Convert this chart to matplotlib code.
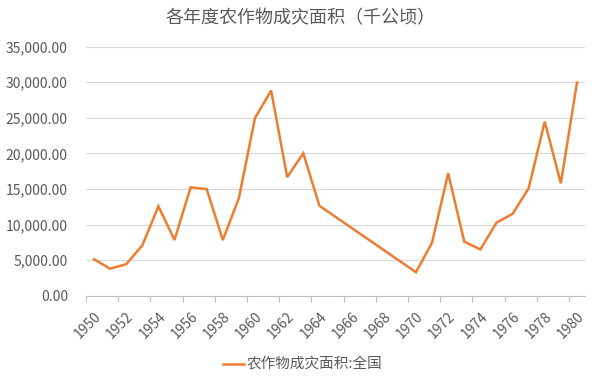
import matplotlib
matplotlib.use("Agg")
import matplotlib.pyplot as plt
from matplotlib.ticker import FuncFormatter
from matplotlib.transforms import ScaledTranslation
import numpy as np

plt.rcParams['font.family'] = ['Noto Sans CJK SC', 'DejaVu Sans']

# years with data (1965-1969 missing)
years = [1950, 1951, 1952, 1953, 1954, 1955, 1956, 1957, 1958, 1959,
         1960, 1961, 1962, 1963, 1964,
         1970, 1971, 1972, 1973, 1974, 1975, 1976, 1977, 1978, 1979, 1980]
area = [5120, 3790, 4430, 7070, 12570, 7830, 15230, 14980, 7820, 13730,
        24980, 28830, 16670, 20010, 12640,
        3300, 7470, 17210, 7600, 6500, 10260, 11500, 15100, 24460, 15790, 29940]
tick_years = list(range(1950, 1981, 2))

title = "各年度农作物成灾面积（千公顷）"
series_name = "农作物成灾面积:全国"

text_color = "#595959"
line_color = "#ED7D31"
grid_color = "#D9D9D9"

fig = plt.figure(figsize=(6, 3.76), dpi=100)
ax = fig.add_axes([0.1433, 0.2136, 0.8317, 0.6622])

# points sit in the middle of each year on a date-like axis
x = np.array(years) + 0.5
ax.plot(x, area, color=line_color, linewidth=1.8, label=series_name,
        solid_joinstyle='miter')

ax.set_xlim(1950, 1981)
ax.set_ylim(0, 35000)
ax.set_yticks(range(0, 35001, 5000))
ax.set_xticks(tick_years)
ax.yaxis.set_major_formatter(FuncFormatter(lambda v, p: "{:,.2f}".format(v)))

ax.grid(axis='y', color=grid_color, linewidth=0.8)
ax.set_axisbelow(True)
for s in ['top', 'right', 'left']:
    ax.spines[s].set_visible(False)
ax.spines['bottom'].set_color("#BFBFBF")
ax.spines['bottom'].set_linewidth(0.8)

ax.tick_params(axis='y', length=0, pad=13, labelsize=10, labelcolor=text_color)
ax.tick_params(axis='x', length=4, width=0.8, color="#BFBFBF", pad=2,
               labelsize=10, labelcolor=text_color)
shift = ScaledTranslation(0.08, -0.05, fig.dpi_scale_trans)
for lab in ax.get_xticklabels():
    lab.set_rotation(45)
    lab.set_ha('right')
    lab.set_va('top')
    lab.set_rotation_mode('anchor')
    lab.set_transform(lab.get_transform() + shift)

fig.text(0.5, 0.952, title, ha='center', va='center', fontsize=13,
         color=text_color)

leg = fig.legend(loc='center', bbox_to_anchor=(0.505, 0.03), frameon=False,
                 fontsize=10.5, handlelength=1.4, handletextpad=0.2)
for t in leg.get_texts():
    t.set_color(text_color)

fig.savefig("out.png", dpi=100)
